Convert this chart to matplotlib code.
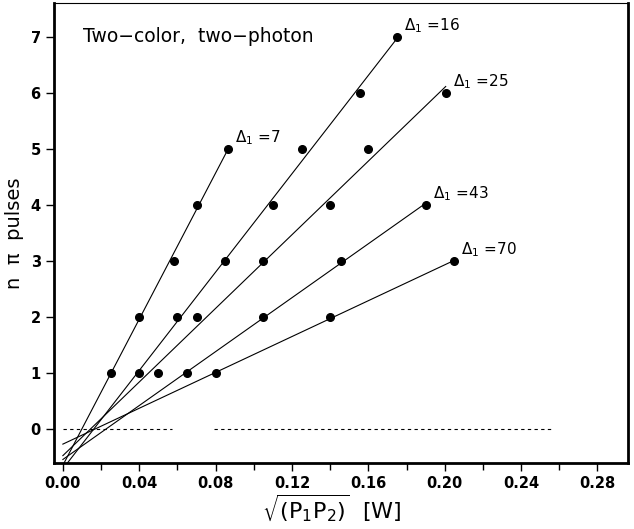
import numpy as np
import matplotlib.pyplot as plt

# data: sqrt(P1*P2) [W] vs number of pi pulses
labels = ['7', '16', '25', '43', '70']
x_d7 = [0.025, 0.040, 0.058, 0.070, 0.0865]
y_d7 = [1, 2, 3, 4, 5]
x_d16 = [0.040, 0.060, 0.085, 0.110, 0.1255, 0.1555, 0.175]
y_d16 = [1, 2, 3, 4, 5, 6, 7]
x_d25 = [0.050, 0.070, 0.105, 0.140, 0.160, 0.2005]
y_d25 = [1, 2, 3, 4, 5, 6]
x_d43 = [0.065, 0.105, 0.1455, 0.190]
y_d43 = [1, 2, 3, 4]
x_d70 = [0.080, 0.140, 0.205]
y_d70 = [1, 2, 3]

series = [(x_d7, y_d7), (x_d16, y_d16), (x_d25, y_d25), (x_d43, y_d43), (x_d70, y_d70)]

# zero reference line (two dashed pieces)
zero_segs = [(0.0, 0.057), (0.079, 0.257)]

plt.rcParams['font.family'] = 'DejaVu Sans'
plt.rcParams['mathtext.fontset'] = 'dejavusans'

fig = plt.figure(figsize=(6.34, 5.29), dpi=100)
ax = fig.add_axes([0.085, 0.125, 0.905, 0.869])

for lab, (xs, ys) in zip(labels, series):
    xs = np.array(xs)
    ys = np.array(ys)
    m, b = np.polyfit(xs, ys, 1)
    xl = np.array([0.0, xs[-1]])
    ax.plot(xl, m * xl + b, color='black', lw=0.8)
    ax.plot(xs, ys, 'o', color='black', markersize=5.5)
    ax.annotate('Δ$_1$ =' + lab, (xs[-1], ys[-1]), xytext=(5, 8),
                textcoords='offset points', fontsize=11, va='center')

for x0, x1 in zero_segs:
    ax.plot([x0, x1], [0, 0], color='black', lw=0.8, ls=(0, (3, 3)))

ax.text(0.0105, 7.0, 'Two\u2212color,  two\u2212photon', fontsize=13.5, va='center')

ax.set_xlim(-0.0047, 0.2958)
ax.set_ylim(-0.6, 7.6)
ax.set_xticks(np.arange(0, 0.29, 0.04))
ax.set_xticks(np.arange(0.02, 0.29, 0.04), minor=True)
ax.set_xticklabels(['%.2f' % v for v in np.arange(0, 0.29, 0.04)], fontweight='bold')
ax.set_yticks(range(0, 8))
ax.set_yticklabels([str(v) for v in range(0, 8)], fontweight='bold')
ax.tick_params(labelsize=10.5, direction='out', length=6, width=1)
ax.tick_params(which='minor', direction='out', length=5, width=1)

for s in ['left', 'bottom', 'right']:
    ax.spines[s].set_linewidth(2)
ax.spines['top'].set_linewidth(0.8)

ax.set_xlabel(r'$\sqrt{(\mathrm{P_1P_2})}$  [W]', fontsize=16)
ax.xaxis.set_label_coords(0.485, -0.065, transform=ax.transAxes)
ax.set_ylabel('n  π  pulses', fontsize=14)
ax.yaxis.set_label_coords(-0.052, 0.5, transform=ax.transAxes)

plt.savefig('out.png', dpi=100)
